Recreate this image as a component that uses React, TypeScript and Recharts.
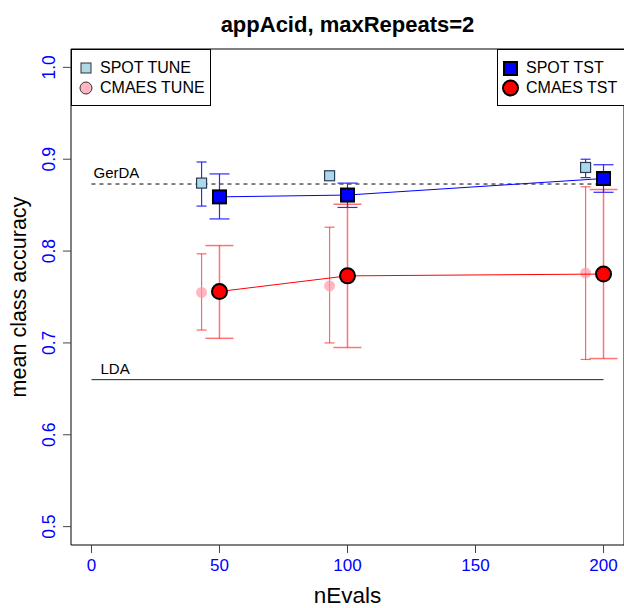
import React from 'react';
import {
  ComposedChart,
  Scatter,
  XAxis,
  YAxis,
  ErrorBar,
  ReferenceLine,
  ReferenceArea,
} from 'recharts';

const nEvalsTune = [43, 93, 193];
const nEvalsTst = [50, 100, 200];

const spotTune = [0.874, 0.882, 0.891];
const spotTuneLow = [0.849, 0.88, 0.88];
const spotTuneHigh = [0.897, 0.884, 0.9];

const spotTst = [0.859, 0.861, 0.879];
const spotTstLow = [0.835, 0.8475, 0.864];
const spotTstHigh = [0.884, 0.874, 0.894];

const cmaesTune = [0.755, 0.762, 0.776];
const cmaesTuneLow = [0.714, 0.7, 0.682];
const cmaesTuneHigh = [0.797, 0.826, 0.87];

const cmaesTst = [0.756, 0.773, 0.775];
const cmaesTstLow = [0.705, 0.695, 0.683];
const cmaesTstHigh = [0.806, 0.851, 0.867];

const gerdaValue = 0.873;
const ldaValue = 0.66;

const xTicks = [0, 50, 100, 150, 200];
const yTicks = [0.5, 0.6, 0.7, 0.8, 0.9, 1.0];

const titleText = 'appAcid, maxRepeats=2';
const xLabel = 'nEvals';
const yLabel = 'mean class accuracy';

const FONT = '"Liberation Sans", Arial, Helvetica, sans-serif';

function build(xs: number[], ys: number[], lo: number[], hi: number[]) {
  return xs.map((x, i) => ({ x, y: ys[i], err: [ys[i] - lo[i], hi[i] - ys[i]] }));
}

const spotTuneData = build(nEvalsTune, spotTune, spotTuneLow, spotTuneHigh);
const spotTstData = build(nEvalsTst, spotTst, spotTstLow, spotTstHigh);
const cmaesTuneData = build(nEvalsTune, cmaesTune, cmaesTuneLow, cmaesTuneHigh);
const cmaesTstData = build(nEvalsTst, cmaesTst, cmaesTstLow, cmaesTstHigh);

const SquareShape = (size: number, fill: string, stroke: string, sw: number) => (p: any) => (
  <rect
    x={p.cx - size / 2}
    y={p.cy - size / 2}
    width={size}
    height={size}
    fill={fill}
    stroke={stroke}
    strokeWidth={sw}
  />
);

const CircleShape = (r: number, fill: string, stroke: string, sw: number, opacity = 1) => (p: any) => (
  <circle cx={p.cx} cy={p.cy} r={r} fill={fill} stroke={stroke} strokeWidth={sw} fillOpacity={opacity} />
);

const XTick = (p: any) => (
  <text x={p.x} y={p.y + 16} textAnchor="middle" fill="#0000ff" fontSize={17} fontFamily={FONT}>
    {p.payload.value}
  </text>
);

const YTick = (p: any) => (
  <text
    transform={`translate(${p.x - 6}, ${p.y}) rotate(-90)`}
    textAnchor="middle"
    fill="#0000ff"
    fontSize={17.5}
    fontFamily={FONT}
  >
    {Number(p.payload.value).toFixed(1)}
  </text>
);

const lineLabel = (text: string, dx: number) => (props: any) => {
  const vb = props.viewBox || {};
  return (
    <text x={(vb.x ?? 0) + dx} y={(vb.y ?? 0) - 6} fontSize={15} fontFamily={FONT} fill="#000">
      {text}
    </text>
  );
};

const legendBox: React.CSSProperties = {
  position: 'absolute',
  top: 49,
  height: 57,
  border: '1px solid #000',
  background: '#fff',
  boxSizing: 'border-box',
  fontFamily: FONT,
  fontSize: 16,
  color: '#000',
};

const legendText: React.CSSProperties = { position: 'absolute', lineHeight: '18px', whiteSpace: 'nowrap' };

export default function App() {
  return (
    <div style={{ position: 'absolute', left: 0, top: 0, width: 624, height: 608, background: '#fff' }}>
      <ComposedChart width={624} height={608} margin={{ top: 49, right: 0, bottom: 0, left: 0 }}>
        <XAxis
          type="number"
          dataKey="x"
          domain={[-8, 208]}
          ticks={xTicks}
          interval={0}
          allowDataOverflow
          axisLine={false}
          tickLine={{ stroke: '#444' }}
          tickSize={8}
          height={63}
          tick={XTick}
          label={(props: any) => {
            const vb = props.viewBox || {};
            return (
              <text
                x={(vb.x ?? 0) + (vb.width ?? 0) / 2}
                y={603}
                textAnchor="middle"
                fontSize={22.5}
                fontFamily={FONT}
                fill="#000"
              >
                {xLabel}
              </text>
            );
          }}
        />
        <YAxis
          type="number"
          dataKey="y"
          domain={[0.48, 1.02]}
          ticks={yTicks}
          interval={0}
          allowDataOverflow
          axisLine={false}
          tickLine={{ stroke: '#444' }}
          tickSize={8}
          width={71}
          tick={YTick}
          label={(props: any) => {
            const vb = props.viewBox || {};
            const cy = (vb.y ?? 0) + (vb.height ?? 0) / 2;
            return (
              <text
                transform={`translate(26, ${cy}) rotate(-90)`}
                textAnchor="middle"
                fontSize={21.5}
                fontFamily={FONT}
                fill="#000"
              >
                {yLabel}
              </text>
            );
          }}
        />
        <ReferenceArea x1={-8} x2={208} y1={0.48} y2={1.02} fill="none" stroke="#000" strokeWidth={1} ifOverflow="visible" />
        <ReferenceLine
          segment={[{ x: 0, y: gerdaValue }, { x: 200, y: gerdaValue }]}
          stroke="#000"
          strokeDasharray="4 4"
          label={lineLabel('GerDA', 2)}
        />
        <ReferenceLine
          segment={[{ x: 0, y: ldaValue }, { x: 200, y: ldaValue }]}
          stroke="#222"
          label={lineLabel('LDA', 9)}
        />
        <Scatter
          name="SPOT TUNE"
          data={spotTuneData}
          isAnimationActive={false}
          shape={SquareShape(10, '#add8e6', '#2a3a5a', 1.2)}
        >
          <ErrorBar dataKey="err" direction="y" width={5} stroke="#2b2bff" strokeWidth={1.2} />
        </Scatter>
        <Scatter
          name="CMAES TUNE"
          data={cmaesTuneData}
          isAnimationActive={false}
          shape={CircleShape(5.5, '#ff9aa8', 'none', 0, 0.7)}
        >
          <ErrorBar dataKey="err" direction="y" width={5} stroke="#ff0000" strokeOpacity={0.6} strokeWidth={1.2} />
        </Scatter>
        <Scatter
          name="SPOT TST"
          data={spotTstData}
          isAnimationActive={false}
          line={{ stroke: '#0000ff', strokeWidth: 1 }}
          lineType="joint"
          shape={SquareShape(13, '#0000ff', '#000', 2)}
        >
          <ErrorBar dataKey="err" direction="y" width={10} stroke="#2b2bff" strokeWidth={1.2} />
        </Scatter>
        <Scatter
          name="CMAES TST"
          data={cmaesTstData}
          isAnimationActive={false}
          line={{ stroke: '#ff0000', strokeWidth: 1 }}
          lineType="joint"
          shape={CircleShape(7.5, '#ff0000', '#000', 2)}
        >
          <ErrorBar dataKey="err" direction="y" width={14} stroke="#ff0000" strokeOpacity={0.55} strokeWidth={1.5} />
        </Scatter>
      </ComposedChart>

      <div
        style={{
          position: 'absolute',
          left: 71,
          width: 553,
          top: 12,
          textAlign: 'center',
          fontFamily: FONT,
          fontWeight: 'bold',
          fontSize: 22,
          lineHeight: '26px',
        }}
      >
        {titleText}
      </div>

      <div style={{ ...legendBox, left: 71, width: 140 }}>
        <svg width={30} height={56} style={{ position: 'absolute', left: 0, top: 0 }}>
          <rect x={9} y={13} width={10} height={10} fill="#add8e6" stroke="#333" strokeWidth={1} />
          <circle cx={14} cy={38} r={6} fill="#ffb6c1" stroke="#333" strokeWidth={1} />
        </svg>
        <div style={{ ...legendText, left: 28, top: 9 }}>SPOT TUNE</div>
        <div style={{ ...legendText, left: 28, top: 29 }}>CMAES TUNE</div>
      </div>

      <div style={{ ...legendBox, left: 497, width: 140 }}>
        <svg width={30} height={56} style={{ position: 'absolute', left: 0, top: 0 }}>
          <rect x={6} y={12} width={13} height={13} fill="#0000ff" stroke="#000" strokeWidth={2} />
          <circle cx={12.5} cy={38} r={7.5} fill="#ff0000" stroke="#000" strokeWidth={2} />
        </svg>
        <div style={{ ...legendText, left: 28, top: 9 }}>SPOT TST</div>
        <div style={{ ...legendText, left: 28, top: 29 }}>CMAES TST</div>
      </div>
    </div>
  );
}
